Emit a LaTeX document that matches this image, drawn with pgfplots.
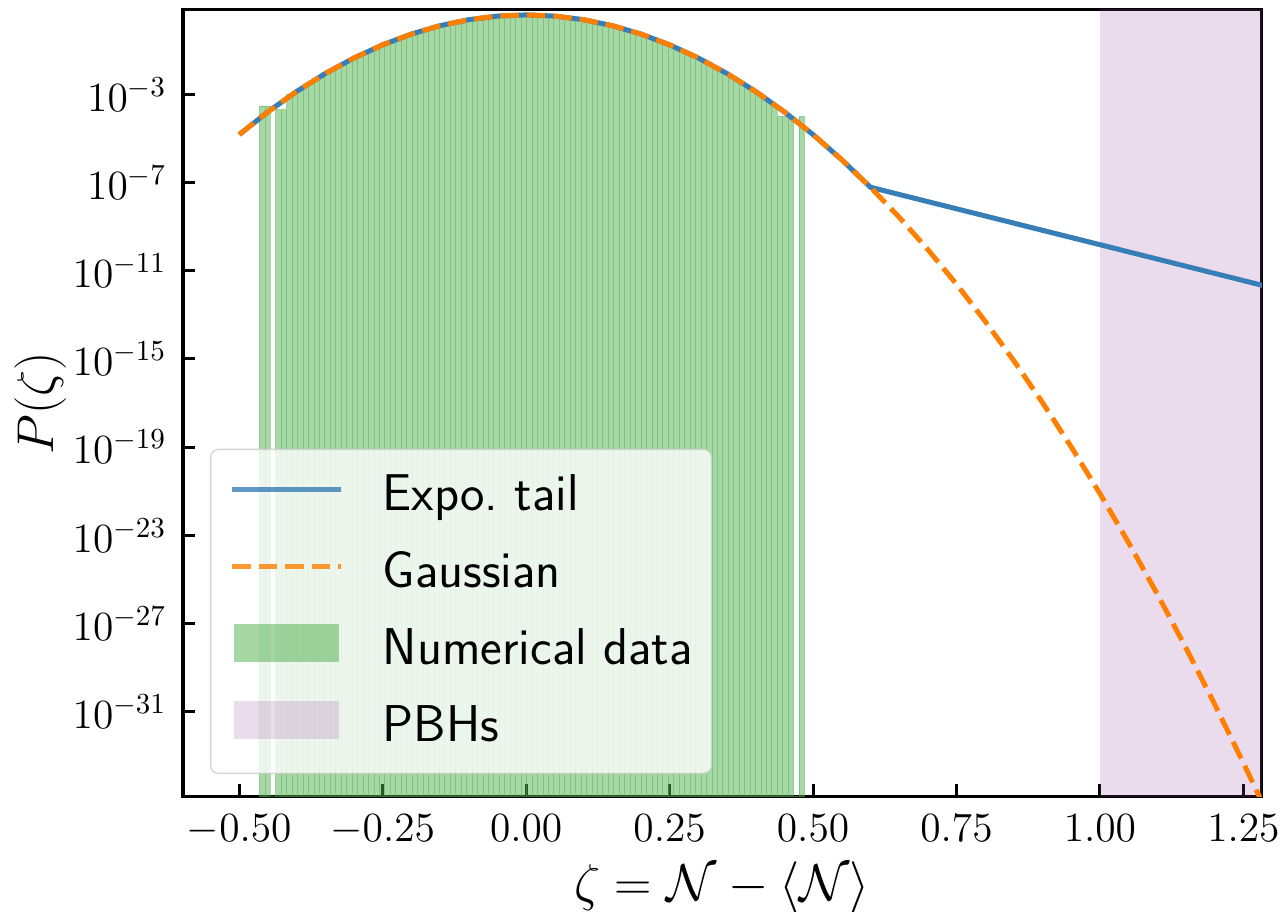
\RequirePackage{fix-cm}
\documentclass[border=0pt]{standalone}
\usepackage{pgfplots}
\usepackage{pgfplotstable}
\pgfplotsset{compat=1.18}

\definecolor{setblue}{RGB}{55,126,184}
\definecolor{setorange}{RGB}{255,127,0}
\definecolor{setgreen}{RGB}{77,175,74}
\definecolor{setpurple}{RGB}{152,78,163}

% Histogram of the sampled curvature perturbation: left bin edge, density
\pgfplotstableread{
x y
-0.4650 3.0e-4
-0.4555 3.0e-4
-0.4460 1e-40
-0.4365 2.0e-4
-0.4270 2.0e-4
-0.4175 1.0e-3
-0.4080 1.175e-3
-0.3985 1.715e-3
-0.3890 2.482e-3
-0.3795 3.559e-3
-0.3700 5.058e-3
-0.3605 7.123e-3
-0.3510 9.942e-3
-0.3415 1.375e-2
-0.3320 1.885e-2
-0.3225 2.561e-2
-0.3130 3.449e-2
-0.3035 4.600e-2
-0.2940 6.083e-2
-0.2845 7.970e-2
-0.2750 0.1035
-0.2655 0.1332
-0.2560 0.1699
-0.2465 0.2147
-0.2370 0.2689
-0.2275 0.3338
-0.2180 0.4106
-0.2085 0.5005
-0.1990 0.6046
-0.1895 0.7239
-0.1800 0.8589
-0.1705 1.010
-0.1610 1.177
-0.1515 1.359
-0.1420 1.555
-0.1325 1.764
-0.1230 1.983
-0.1135 2.208
-0.1040 2.438
-0.0945 2.666
-0.0850 2.891
-0.0755 3.106
-0.0660 3.307
-0.0565 3.489
-0.0470 3.648
-0.0375 3.781
-0.0280 3.883
-0.0185 3.952
-0.0090 3.985
0.0005 3.983
0.0100 3.946
0.0195 3.873
0.0290 3.768
0.0385 3.633
0.0480 3.471
0.0575 3.286
0.0670 3.084
0.0765 2.867
0.0860 2.643
0.0955 2.413
0.1050 2.184
0.1145 1.959
0.1240 1.742
0.1335 1.534
0.1430 1.339
0.1525 1.158
0.1620 0.9933
0.1715 0.8441
0.1810 0.7105
0.1905 0.5932
0.2000 0.4904
0.2095 0.4019
0.2190 0.3264
0.2285 0.2627
0.2380 0.2095
0.2475 0.1656
0.2570 0.1298
0.2665 0.1007
0.2760 7.750e-2
0.2855 5.909e-2
0.2950 4.465e-2
0.3045 3.343e-2
0.3140 2.481e-2
0.3235 1.824e-2
0.3330 1.330e-2
0.3425 9.604e-3
0.3520 6.874e-3
0.3615 4.876e-3
0.3710 3.428e-3
0.3805 2.388e-3
0.3900 1.649e-3
0.3995 1.128e-3
0.4090 7.648e-4
0.4185 5.139e-4
0.4280 3.0e-4
0.4375 1.0e-4
0.4470 1.0e-4
0.4565 1.0e-4
0.4660 1e-40
0.4755 1.0e-4
0.4850 1.0e-4
}\histdata

% Gaussian PDF
\pgfplotstableread{
x y
-0.50 1.487e-5
-0.45 1.598e-4
-0.40 1.338e-3
-0.35 8.728e-3
-0.30 4.432e-2
-0.25 1.753e-1
-0.20 5.400e-1
-0.15 1.295
-0.10 2.420
-0.05 3.521
0.00 3.989
0.05 3.521
0.10 2.420
0.15 1.295
0.20 5.400e-1
0.25 1.753e-1
0.30 4.432e-2
0.35 8.728e-3
0.40 1.338e-3
0.45 1.598e-4
0.50 1.487e-5
0.55 1.077e-6
0.60 6.076e-8
0.65 2.670e-9
0.70 9.140e-11
0.75 2.430e-12
0.80 5.050e-14
0.85 8.170e-16
0.90 1.028e-17
0.95 1.008e-19
1.00 7.700e-22
1.05 4.570e-24
1.10 2.120e-26
1.15 7.640e-29
1.20 2.150e-31
1.25 4.700e-34
1.28 1.056e-35
}\gaussdata

% Gaussian core matched to an exponential tail beyond zeta = 0.6
\pgfplotstableread{
x y
-0.50 1.487e-5
-0.45 1.598e-4
-0.40 1.338e-3
-0.35 8.728e-3
-0.30 4.432e-2
-0.25 1.753e-1
-0.20 5.400e-1
-0.15 1.295
-0.10 2.420
-0.05 3.521
0.00 3.989
0.05 3.521
0.10 2.420
0.15 1.295
0.20 5.400e-1
0.25 1.753e-1
0.30 4.432e-2
0.35 8.728e-3
0.40 1.338e-3
0.45 1.598e-4
0.50 1.487e-5
0.55 1.077e-6
0.60 6.076e-8
1.30 1.675e-12
}\taildata

\begin{document}
\begin{tikzpicture}
\path[use as bounding box] (-73.2pt,-45.72pt) rectangle (440.4pt,318.68pt);
\begin{axis}[
  scale only axis,
  width=431.5pt, height=314.96pt,
  xmin=-0.598, xmax=1.282,
  ymode=log, log origin=infty,
  ymin=1.38e-35, ymax=7.16,
  xtick={-0.5,-0.25,0,0.25,0.5,0.75,1.0,1.25},
  ytick={1e-31,1e-27,1e-23,1e-19,1e-15,1e-11,1e-7,1e-3},
  yminorticks=false, xminorticks=false,
  scaled x ticks=false,
  tick pos=left,
  tick align=inside,
  major tick length=4.9pt,
  tick style={line width=1.2pt, black},
  axis line style={line width=1.3pt},
  tick label style={font=\fontsize{16.6}{20}\selectfont},
  xticklabel style={/pgf/number format/.cd, fixed, fixed zerofill, precision=2, /tikz/.cd,
    anchor=base, inner sep=0pt, yshift=-18pt},
  yticklabel style={anchor=east, inner sep=0pt, xshift=-6.5pt},
  xlabel={$\zeta=\mathcal{N}-\langle\mathcal{N}\rangle$},
  ylabel={$P(\zeta)$},
  xlabel style={at={(axis description cs:0.5,-0.1324)}, anchor=base, inner sep=0pt,
    font=\fontsize{20.7}{24}\selectfont},
  ylabel style={at={(axis description cs:-0.1196,0.5)}, anchor=base, inner sep=0pt,
    font=\fontsize{20.7}{24}\selectfont},
  legend cell align=left,
  legend style={
    at={(axis description cs:0.0250,0.0288)}, anchor=south west,
    font=\fontsize{20.7}{24}\sffamily\selectfont,
    draw=black!20, draw opacity=0.8, line width=0.55pt, rounded corners=3.2pt,
    fill=white, fill opacity=0.8, text opacity=1,
    inner xsep=7.6pt, inner ysep=8.6pt,
    row sep=10.5pt,
    nodes={inner sep=0pt, text height=16pt, text depth=4.2pt},
  },
]

% PBH formation region
\addplot[forget plot, draw=none, fill=setpurple, fill opacity=0.2]
  coordinates {(1.0,1e-40) (1.3,1e-40) (1.3,1e10) (1.0,1e10)} -- cycle;

% numerical histogram
\addplot[forget plot, ybar interval, fill=setgreen, fill opacity=0.5,
  draw=setgreen, draw opacity=0.45, line width=0.2pt] table {\histdata};

% analytic curves
\addplot[forget plot, setblue, line width=2pt] table {\taildata};
\addplot[forget plot, setorange, line width=2pt, dash pattern=on 7.4pt off 3.2pt] table {\gaussdata};

% legend entries
\addlegendimage{legend image code/.code={
  \draw[setblue, line width=2pt, sharp corners] (0pt,2.6pt) -- (43.6pt,2.6pt);
  \path (60pt,2.6pt);}}
\addlegendentry{Expo.\ tail}
\addlegendimage{legend image code/.code={
  \draw[setorange, line width=2pt, dash pattern=on 7.4pt off 3.2pt, sharp corners] (0pt,2.6pt) -- (43.6pt,2.6pt);
  \path (60pt,2.6pt);}}
\addlegendentry{Gaussian}
\addlegendimage{legend image code/.code={
  \path[draw=none, fill=setgreen, fill opacity=0.5, sharp corners] (0.7pt,-4.95pt) rectangle (42.9pt,10.15pt);
  \path (60pt,2.6pt);}}
\addlegendentry{Numerical data}
\addlegendimage{legend image code/.code={
  \path[draw=none, fill=setpurple, fill opacity=0.2, sharp corners] (0.7pt,-4.95pt) rectangle (42.9pt,10.15pt);
  \path (60pt,2.6pt);}}
\addlegendentry{PBHs}

\end{axis}
\end{tikzpicture}
\end{document}
